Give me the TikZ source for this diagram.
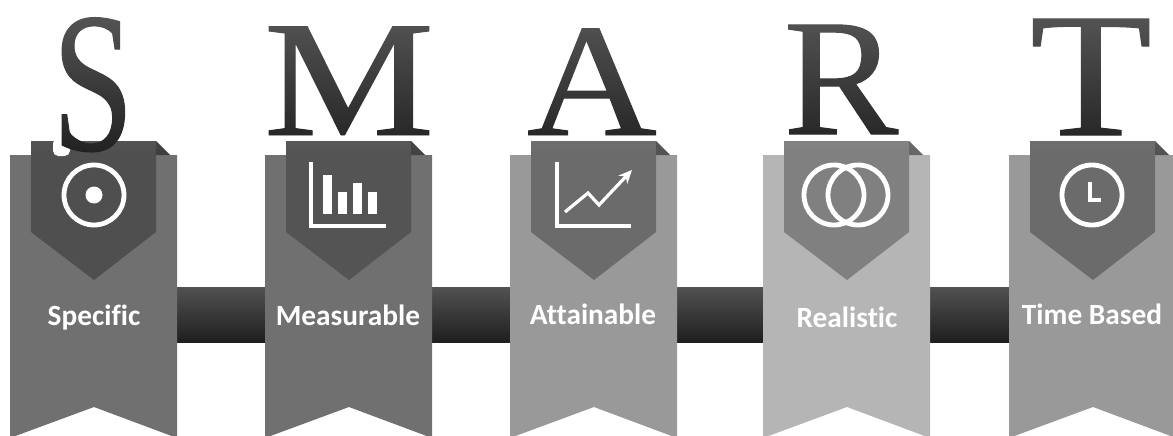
\documentclass[tikz,border=0pt]{standalone}
\usepackage{fontspec}
\usepackage{xcolor}
\setmainfont{Liberation Serif}
\newfontfamily\letterfont[FakeBold=0.6]{Liberation Serif}
\newfontfamily\labelfont[Ligatures=NoCommon]{Carlito}
\usetikzlibrary{positioning,calc,arrows.meta,fadings}
\tikzfading[name=letterfade, top color=transparent!75, bottom color=transparent!100]
\tikzset{
    letter/.style={inner sep=0pt, text=black!87, anchor=base, font=\letterfont\fontsize{100}{100}\selectfont},
    tag/.style={inner sep=0pt, text=white, anchor=base, font=\labelfont\bfseries\fontsize{22}{22}\selectfont},
    icon/.style={draw=white, line width=3.6pt},
    solid icon/.style={fill=white}
}

\begin{document}
\begin{tikzpicture}[x=0.75pt,y=-0.75pt]
    \useasboundingbox (0,0) rectangle (1173,435);

    % Connecting bars
    \foreach \i/\j in {177/265, 431/510, 676/763, 929/1009} {
        \shade[top color=black!68, bottom color=black!88] (\i,287) rectangle (\j,342);
    }

    % Ribbons with their pockets
    \foreach \i/\shadeA/\shadeB/\shadeC in {10/56/69/76, 265/56/67/74, 510/40/58/68, 763/29/50/60, 1009/40/58/68} {
        \fill[black!\shadeA] (\i,155) -- (\i+167,155) -- (\i+167,438) -- (\i+84,407) -- (\i,438) -- cycle;
        \fill[black!\shadeB] (\i+21,141) -- (\i+146,141) -- (\i+146,232) -- (\i+84,280) -- (\i+21,232) -- cycle;
        \fill[black!\shadeC] (\i+146,141) -- (\i+160,155) -- (\i+146,155) -- cycle;
    }

    % Ribbon captions
    \node[tag] (specific) at (94,325) {Specific};
    \node[tag] (measurable) at (348,325) {Measurable};
    \node[tag] (attainable) at (593,324) {Attainable};
    \node[tag] (realistic) at (847,327) {Realistic};
    \node[tag] (timebased) at (1092,324) {Time Based};

    % Target
    \draw[icon] (94,195) circle (30);
    \fill[solid icon] (94,195) circle (8.5);

    % Bar chart
    \draw[icon] (311,162) -- (311,226) -- (386,226);
    \foreach \i/\top in {323/175, 338/192, 353/183, 368/192} {
        \fill[solid icon] (\i,\top) rectangle (\i+9,214);
    }

    % Rising line
    \draw[icon] (557,162) -- (557,226) -- (631,226);
    \draw[icon, line width=2.4pt, -{Stealth[length=10pt,width=9pt]}] (565,212) -- (588,193) -- (599,205) -- (632,170);

    % Rings
    \draw[icon] (834,195) circle (30);
    \draw[icon] (858,195) circle (30);

    % Clock
    \draw[icon] (1092,195) circle (30);
    \draw[icon, line width=3pt] (1090,182) -- (1090,199.5) -- (1101,199.5);

    % Letters
    \fill[white, rounded corners=4] (53,138) rectangle (70,156);
    \foreach \name/\c/\i/\base/\sx/\sy in {S/S/93/150/1.1/1.5, M/M/349/135/1.44/1.24, A/A/592/135/1.35/1.21, R/R/841/134/1.29/1.25, T/T/1091/135/1.5/1.33} {
        \node[letter] (\name) at (\i,\base) {\scalebox{\sx}[\sy]{\c}};
    }
    \fill[white, path fading=letterfade] (0,5) rectangle (1173,155);
\end{tikzpicture}
\end{document}
